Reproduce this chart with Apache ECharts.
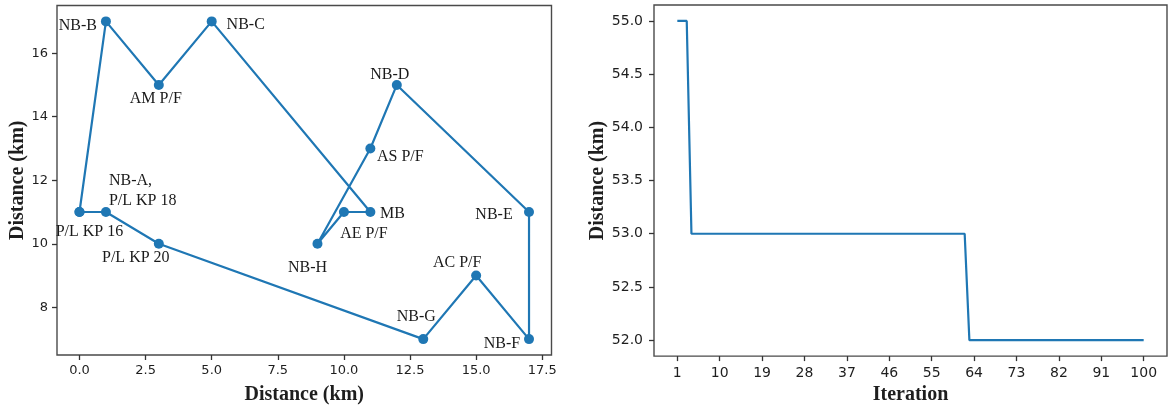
<!DOCTYPE html>
<html lang="en">
<head>
  <meta charset="UTF-8">
  <title>Route and iteration distance</title>
  <style>
    html, body { margin: 0; padding: 0; background: #fff; }
    #chart { width: 1172px; height: 410px; }
  </style>
</head>
<body>
  <div id="chart"></div>
  <script src="https://cdn.jsdelivr.net/npm/echarts@6/dist/echarts.min.js"></script>
  <script>
    // left panel: route through the stops (last point closes the loop)
    var stopNames = ['P/L KP 16', 'NB-B', 'AM P/F', 'NB-C', 'MB', 'AE P/F', 'NB-H', 'AS P/F',
      'NB-D', 'NB-E', 'NB-F', 'AC P/F', 'NB-G', 'P/L KP 20', 'NB-A,\nP/L KP 18', ''];
    var stopX = [0, 1, 3, 5, 11, 10, 9, 11, 12, 17, 17, 15, 13, 3, 1, 0];
    var stopY = [11, 17, 15, 17, 11, 11, 10, 13, 15, 11, 7, 9, 7, 10, 11, 11];
    var routeXTicks = [0, 2.5, 5, 7.5, 10, 12.5, 15, 17.5];
    var routeYTicks = [8, 10, 12, 14, 16];

    // right panel: best distance per iteration
    var bestDistance = [
      55, 55, 55, 53, 53, 53, 53, 53, 53, 53,
      53, 53, 53, 53, 53, 53, 53, 53, 53, 53,
      53, 53, 53, 53, 53, 53, 53, 53, 53, 53,
      53, 53, 53, 53, 53, 53, 53, 53, 53, 53,
      53, 53, 53, 53, 53, 53, 53, 53, 53, 53,
      53, 53, 53, 53, 53, 53, 53, 53, 53, 53,
      53, 53, 52, 52, 52, 52, 52, 52, 52, 52,
      52, 52, 52, 52, 52, 52, 52, 52, 52, 52,
      52, 52, 52, 52, 52, 52, 52, 52, 52, 52,
      52, 52, 52, 52, 52, 52, 52, 52, 52, 52
    ];
    var iterTicks = [1, 10, 19, 28, 37, 46, 55, 64, 73, 82, 91, 100];
    var distTicks = [52, 52.5, 53, 53.5, 54, 54.5, 55];

    // label placement (offset from the marker centre), style only
    var labelOffsets = [[10, 20], [-28, 4], [-3, 14], [34, 3], [22, 2], [20, 22], [-10, 24], [30, 8],
      [-7, -10], [-35, 3], [-27, 5], [-19, -13], [-7, -22], [-23, 14], [3, -21], [0, 0]];

    var blue = '#1f77b4';
    var tickFont = { fontFamily: 'DejaVu Sans', color: '#1e1e1e' };
    var titleFont = { fontFamily: 'Liberation Serif', fontWeight: 'bold', fontSize: 20, color: '#1e1e1e' };

    var routeData = stopX.map(function (x, i) {
      var item = { value: [x, stopY[i]] };
      if (!stopNames[i]) {
        item.label = { show: false };
      } else {
        item.label = {
          show: true,
          formatter: stopNames[i],
          position: 'inside',
          offset: labelOffsets[i],
          align: i === 14 ? 'left' : 'center',
          verticalAlign: 'middle'
        };
      }
      return item;
    });

    var iterData = bestDistance.map(function (v, i) { return [i + 1, v]; });

    function axisBase(ticks, fmt, margin, fontSize) {
      return {
        axisLine: { show: false, onZero: false },
        axisTick: { show: true, length: 5, customValues: ticks, lineStyle: { color: '#333', width: 1.3 } },
        axisLabel: Object.assign({ customValues: ticks, formatter: fmt, margin: margin, fontSize: fontSize }, tickFont),
        splitLine: { show: false }
      };
    }

    var chart = echarts.init(document.getElementById('chart'), null, { renderer: 'canvas' });
    chart.setOption({
      animation: false,
      grid: [
        { left: 57, top: 5.5, width: 494.5, height: 350.5, show: true, borderColor: '#4a4a4a', borderWidth: 1.4, containLabel: false },
        { left: 654, top: 5, width: 513, height: 358, show: true, borderColor: '#4a4a4a', borderWidth: 1.4, containLabel: false }
      ],
      xAxis: [
        Object.assign(axisBase(routeXTicks, function (v) { return v.toFixed(1); }, 9, 13), {
          type: 'value', gridIndex: 0, min: -0.85, max: 17.85,
          name: 'Distance (km)', nameLocation: 'middle', nameGap: 30, nameTextStyle: titleFont
        }),
        Object.assign(axisBase(iterTicks, function (v) { return String(v); }, 10, 14), {
          type: 'value', gridIndex: 1, min: -3.95, max: 104.95,
          name: 'Iteration', nameLocation: 'middle', nameGap: 25, nameTextStyle: titleFont
        })
      ],
      yAxis: [
        Object.assign(axisBase(routeYTicks, function (v) { return String(v); }, 9, 13), {
          type: 'value', gridIndex: 0, min: 6.5, max: 17.5,
          name: 'Distance (km)', nameLocation: 'middle', nameGap: 29, nameTextStyle: titleFont
        }),
        Object.assign(axisBase(distTicks, function (v) { return v.toFixed(1); }, 11, 14), {
          type: 'value', gridIndex: 1, min: 51.85, max: 55.15,
          name: 'Distance (km)', nameLocation: 'middle', nameGap: 45, nameTextStyle: titleFont
        })
      ],
      series: [
        {
          type: 'line',
          xAxisIndex: 0, yAxisIndex: 0,
          data: routeData,
          symbol: 'circle',
          symbolSize: 10,
          itemStyle: { color: blue },
          lineStyle: { color: blue, width: 2.2 },
          label: { fontFamily: 'Liberation Serif', fontSize: 16, color: '#1a1a1a', lineHeight: 20 },
          z: 3
        },
        {
          type: 'line',
          xAxisIndex: 1, yAxisIndex: 1,
          data: iterData,
          showSymbol: false,
          lineStyle: { color: blue, width: 2.2 }
        }
      ]
    });
  </script>
</body>
</html>
